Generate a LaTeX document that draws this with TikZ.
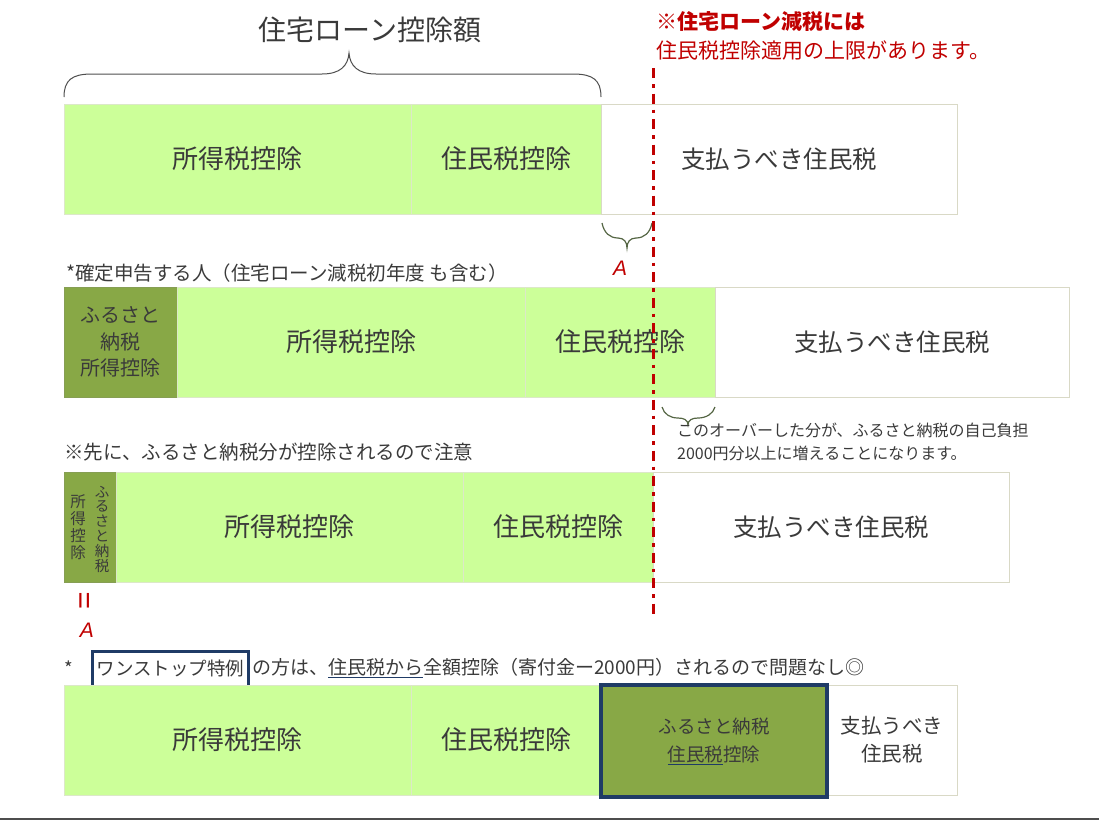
\documentclass[tikz,border=0pt]{standalone}
\usepackage{fontspec}
\setmainfont{Noto Sans CJK JP}
\newfontfamily\latinsans{Liberation Sans}
\definecolor{lg}{HTML}{CCFF99}
\definecolor{dg}{HTML}{88A846}
\definecolor{nb}{HTML}{1F3B66}
\definecolor{rd}{HTML}{C00000}
\definecolor{tx}{HTML}{3A3A3A}
\definecolor{wb}{HTML}{D9D9C6}
\definecolor{gb}{HTML}{DCE8C8}
\definecolor{bc}{HTML}{556644}
\tikzset{
  cell/.style={anchor=north west, inner sep=0pt, outer sep=0pt, align=center, text=tx, line width=0.8pt},
  lgcell/.style={cell, fill=lg, draw=gb},
  dgcell/.style={cell, fill=dg, draw=dg!75!gray},
  wcell/.style={cell, fill=white, draw=wb},
  bigtxt/.style={font=\fontsize{26pt}{30pt}\selectfont},
  wtxt/.style={font=\fontsize{24.5pt}{30pt}\selectfont},
  lab/.style={anchor=west, inner sep=0pt, text=tx, font=\fontsize{19.5pt}{24pt}\selectfont},
  lab4/.style={inner sep=0pt, text=tx, font=\fontsize{18.5pt}{22pt}\selectfont},
  redtxt/.style={anchor=west, inner sep=0pt, text=rd},
  bracepath/.style={draw=bc, line width=1.2pt},
  redA/.style={text=rd, inner sep=0pt, font=\latinsans\itshape\fontsize{21pt}{24pt}\selectfont}
}
\begin{document}
\begin{tikzpicture}[x=1pt,y=-1pt]
\useasboundingbox (0,0) rectangle (1099,820);

% title and big brace
\node[inner sep=0pt, text=tx, font=\fontsize{28pt}{32pt}\selectfont] (title) at (370,30) {住宅ローン控除額};
\coordinate (bl) at (64,97);
\coordinate (br) at (601,97);
\coordinate (bt) at (349,53);
\draw[draw=tx!90, line width=1pt] (bl) .. controls (64,80) and (72,74) .. (92,74) -- (322,74)
  .. controls (340,74) and (348,66) .. (bt) .. controls (350,66) and (358,74) .. (376,74)
  -- (573,74) .. controls (593,74) and (601,80) .. (br);

% red note
\node[redtxt, font=\fontsize{21pt}{24pt}\selectfont\bfseries] (n1) at (656,22) {※住宅ローン減税には};
\node[redtxt, font=\fontsize{21pt}{24pt}\selectfont] (n2) at (656,51) {住民税控除適用の上限があります。};

% row 1
\node[lgcell, bigtxt, minimum width=347pt, minimum height=110pt] (a1) at (64,104) {所得税控除};
\node[lgcell, bigtxt, minimum width=190pt, minimum height=110pt] (a2) at (411,104) {住民税控除};
\node[wcell, wtxt, minimum width=356pt, minimum height=110pt] (a3) at (601,104) {支払うべき住民税};

% small brace A
\coordinate (s1l) at (602,223);
\coordinate (s1r) at (652,223);
\coordinate (s1t) at (627,248);
\draw[bracepath] (s1l) .. controls (604,233) and (610,238) .. (618,238) .. controls (624,238) and (627,242) .. (s1t)
  .. controls (627,242) and (630,238) .. (636,238) .. controls (644,238) and (650,233) .. (s1r);
\node[redA] (A1) at (620,268) {A};

% row 2
\node[lab] (l2) at (66,273) {*確定申告する人（住宅ローン減税初年度 も含む）};
\node[dgcell, font=\fontsize{20pt}{26.5pt}\selectfont, minimum width=113pt, minimum height=110pt] (b0) at (64,287) {ふるさと\\納税\\所得控除};
\node[lgcell, bigtxt, minimum width=348pt, minimum height=110pt] (b1) at (177,287) {所得税控除};
\node[lgcell, bigtxt, minimum width=190pt, minimum height=110pt] (b2) at (525,287) {住民税控除};
\node[wcell, wtxt, minimum width=354pt, minimum height=110pt] (b3) at (715,287) {支払うべき住民税};

% small brace under row 2
\coordinate (s2l) at (662,407);
\coordinate (s2r) at (715,407);
\coordinate (s2t) at (688,425);
\draw[bracepath] (s2l) .. controls (664,414) and (670,418) .. (678,418) .. controls (684,418) and (688,420) .. (s2t)
  .. controls (688,420) and (692,418) .. (698,418) .. controls (706,418) and (713,414) .. (s2r);
\node[anchor=north west, inner sep=0pt, text=tx, align=left, font=\fontsize{16pt}{23pt}\selectfont] (over) at (677,423) {このオーバーした分が、ふるさと納税の自己負担\\2000円分以上に増えることになります。};

% row 3
\node[lab] (l3) at (64,452) {※先に、ふるさと納税分が控除されるので注意};
\node[dgcell, minimum width=52pt, minimum height=110pt] (c0) at (64,472) {};
\node[inner sep=0pt, text=tx, align=center, font=\fontsize{14.5pt}{14.8pt}\selectfont] (c0r) at (102,529) {ふ\\る\\さ\\と\\納\\税};
\node[inner sep=0pt, text=tx, align=center, font=\fontsize{15.5pt}{16.8pt}\selectfont] (c0l) at (78,527) {所\\得\\控\\除};
\node[lgcell, bigtxt, minimum width=347pt, minimum height=110pt] (c1) at (116,472) {所得税控除};
\node[lgcell, bigtxt, minimum width=190pt, minimum height=110pt] (c2) at (463,472) {住民税控除};
\node[wcell, wtxt, minimum width=356pt, minimum height=110pt] (c3) at (653,472) {支払うべき住民税};

\node[redA, rotate=90, font=\latinsans\fontsize{30pt}{30pt}\selectfont] (eq) at (87,601) {=};
\node[redA] (A2) at (87,630) {A};

% dashed limit line
\coordinate (lt) at (653,68);
\coordinate (lb) at (653,616);
\draw[rd, line width=3pt, dash pattern=on 10pt off 6pt on 3.5pt off 6pt] (lt) -- (lb);

% row 4 label
\node[lab4, anchor=west] (st) at (64,668) {*};
\node[lab4, anchor=west, draw=nb, line width=3pt, inner sep=4pt, minimum height=35pt] (ws) at (91,668.5) {ワンストップ特例};
\node[lab4, anchor=west, font=\fontsize{19pt}{22pt}\selectfont] (rest) at (252,668) {の方は、{\color{nb}\underline{\color{tx}住民税から}}全額控除（寄付金ー2000円）されるので問題なし◎};

% row 4
\node[lgcell, bigtxt, minimum width=347pt, minimum height=110pt] (d1) at (64,685) {所得税控除};
\node[lgcell, bigtxt, minimum width=190pt, minimum height=110pt] (d2) at (411,685) {住民税控除};
\node[wcell, font=\fontsize{20.5pt}{28pt}\selectfont, minimum width=130pt, minimum height=110pt] (d4) at (827,685) {支払うべき\\住民税};
\node[cell, fill=dg, draw=nb, line width=3.5pt, font=\fontsize{18.5pt}{28pt}\selectfont, minimum width=226pt, minimum height=112pt] (d3) at (601,685) {ふるさと納税\\{\color{nb}\underline{\color{tx}住民税}}控除};

% bottom rule
\coordinate (fl) at (0,819);
\coordinate (fr) at (1099,819);
\draw[draw=tx!90, line width=1.5pt] (fl) -- (fr);
\end{tikzpicture}
\end{document}
